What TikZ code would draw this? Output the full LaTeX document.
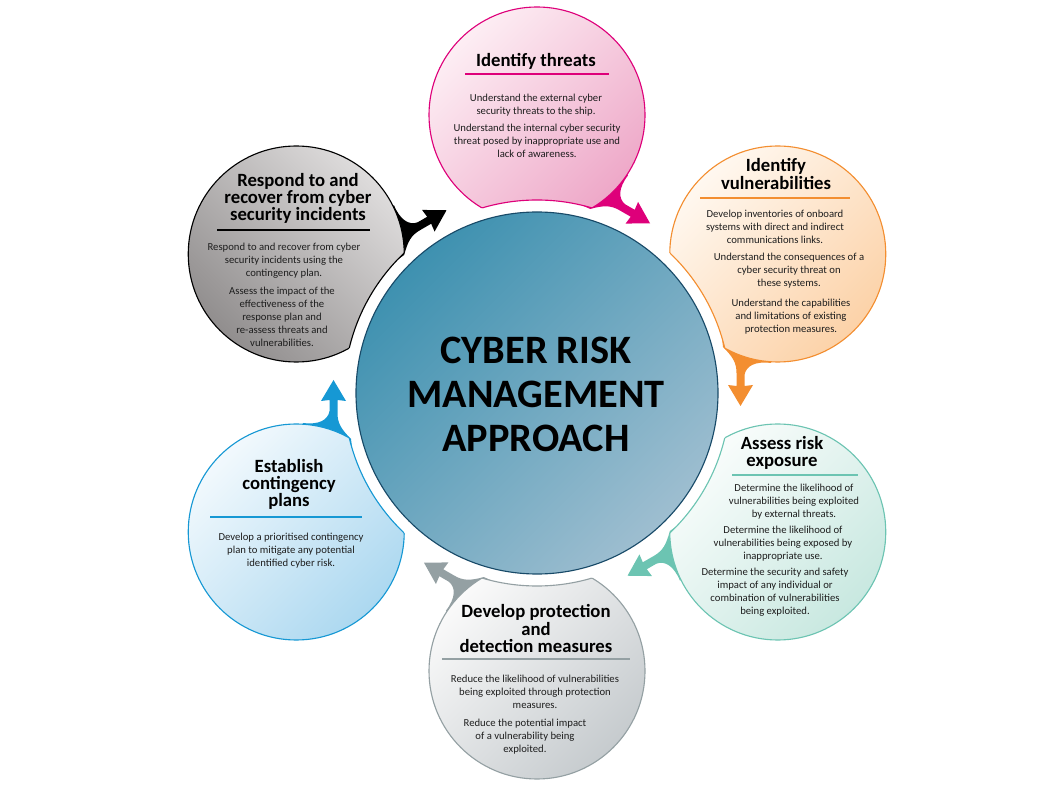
\documentclass[tikz,border=0pt]{standalone}
\usepackage{fontspec}
\setmainfont{Carlito}
\usetikzlibrary{calc}

\definecolor{threatpink}{RGB}{222,0,122}
\definecolor{pinklite}{RGB}{253,238,244}
\definecolor{pinkdark}{RGB}{238,168,200}
\definecolor{vulnorange}{RGB}{243,142,48}
\definecolor{orangelite}{RGB}{255,248,240}
\definecolor{orangedark}{RGB}{252,210,168}
\definecolor{riskteal}{RGB}{108,196,178}
\definecolor{teallite}{RGB}{250,253,252}
\definecolor{tealdark}{RGB}{200,232,224}
\definecolor{protgrey}{RGB}{148,160,163}
\definecolor{greylite}{RGB}{250,250,250}
\definecolor{greydark}{RGB}{198,203,206}
\definecolor{contblue}{RGB}{22,152,212}
\definecolor{bluelite}{RGB}{242,249,253}
\definecolor{bluedark}{RGB}{172,216,240}
\definecolor{respblack}{RGB}{0,0,0}
\definecolor{darklite}{RGB}{222,220,220}
\definecolor{darkdark}{RGB}{145,142,142}
\definecolor{ctrtop}{RGB}{62,145,176}
\definecolor{ctrbot}{RGB}{158,190,208}
\definecolor{ctrline}{RGB}{24,74,104}
\definecolor{bodygrey}{RGB}{30,30,30}

\tikzset{
  titletext/.style={font=\fontsize{13.3}{12.2}\selectfont\bfseries, align=center, inner sep=0pt},
  bodytext/.style={font=\fontsize{7.6}{9.2}\selectfont, align=center, inner sep=0pt, text=bodygrey},
  centretext/.style={font=\fontsize{28.7}{31.3}\selectfont\bfseries, align=center, inner sep=0pt},
  headrule/.style={line width=2pt},
}

\begin{document}
\begin{tikzpicture}[x=0.25mm, y=0.25mm]
  \useasboundingbox (0,0) rectangle (1056,784);
  \def\Rc{181}
  \def\Rg{193}
  \def\Rb{108}
  \def\Db{278}
  \coordinate (O) at (537,391);

  % tails and arrow heads
  \foreach \ang/\col in {60/threatpink, 0/vulnorange, -60/riskteal, -120/protgrey, 180/contblue, 120/respblack}{
    \fill[\col, shift={(O)}, rotate=\ang] (185,55) -- (186,46)
      .. controls (196,36) and (199.5,30) .. (199.5,20) -- (199.5,7) -- (191,8) -- (203.5,-13)
      -- (216,8) -- (207.5,7) -- (207.5,18) .. controls (209,27) and (218,32) .. (234,30)
      -- (236,45) -- cycle;
  }

  % bubbles, cut round the centre
  \foreach \ang/\col/\lite/\dark/\sh in {90/threatpink/pinklite/pinkdark/45,
      30/vulnorange/orangelite/orangedark/45, -30/riskteal/teallite/tealdark/45,
      -90/protgrey/greylite/greydark/45, -150/contblue/bluelite/bluedark/45,
      150/respblack/darklite/darkdark/-45}{
    \coordinate (b) at ($(O)+(\ang:\Db)$);
    \begin{scope}[even odd rule]
      \clip (0,0) rectangle (1056,784) (O) circle (\Rg);
      \shade[top color=\lite, bottom color=\dark, shading angle=\sh] (b) circle (\Rb);
      \draw[\col, line width=0.8pt] (b) circle (\Rb);
    \end{scope}
    \begin{scope}
      \clip (b) circle (\Rb);
      \draw[\col, line width=0.8pt] (O) circle (\Rg);
    \end{scope}
  }

  % centre
  \shade[top color=ctrtop, bottom color=ctrbot, shading angle=45] (O) circle (\Rc);
  \draw[ctrline, line width=0.8pt] (O) circle (\Rc);
  \node[centretext] (ctr) at (536,389.5) {CYBER RISK\\MANAGEMENT\\APPROACH};

  % identify threats
  \node[titletext] (threats) at (536,723) {Identify threats};
  \draw[headrule, threatpink] (465,710) -- (609,710);
  \node[bodytext] (threats1) at (536,678.5) {Understand the external cyber\\security threats to the ship.};
  \node[bodytext] (threats2) at (537,643.5) {Understand the internal cyber security\\threat posed by inappropriate use and\\lack of awareness.};

  % identify vulnerabilities
  \node[titletext] (vuln) at (776,610) {Identify\\vulnerabilities};
  \draw[headrule, vulnorange] (700,586) -- (850,586);
  \node[bodytext] (vuln1) at (775,557) {Develop inventories of onboard\\systems with direct and indirect\\communications links.};
  \node[bodytext] (vuln2) at (789,513) {Understand the consequences of a\\cyber security threat on\\these systems.};
  \node[bodytext] (vuln3) at (791,467.5) {Understand the capabilities\\and limitations of existing\\protection measures.};

  % assess risk exposure
  \node[titletext] (risk) at (782,331) {Assess risk\\exposure};
  \draw[headrule, riskteal] (732,309) -- (858,309);
  \node[bodytext] (risk1) at (794,282.5) {Determine the likelihood of\\vulnerabilities being exploited\\by external threats.};
  \node[bodytext] (risk2) at (783,240.5) {Determine the likelihood of\\vulnerabilities being exposed by\\inappropriate use.};
  \node[bodytext] (risk3) at (775,191.5) {Determine the security and safety\\impact of any individual or\\combination of vulnerabilities\\being exploited.};

  % protection and detection
  \node[titletext] (prot) at (536,155.5) {Develop protection\\and\\detection measures};
  \draw[headrule, protgrey] (442,125) -- (630,125);
  \node[bodytext] (prot1) at (535,92.5) {Reduce the likelihood of vulnerabilities\\being exploited through protection\\measures.};
  \node[bodytext] (prot2) at (525,47.5) {Reduce the potential impact\\of a vulnerability being\\exploited.};

  % contingency plans
  \node[titletext] (cont) at (289,299.5) {Establish\\contingency\\plans};
  \draw[headrule, contblue] (210,267) -- (362,267);
  \node[bodytext] (cont1) at (291,233.5) {Develop a prioritised contingency\\plan to mitigate any potential\\identified cyber risk.};

  % respond and recover
  \node[titletext] (resp) at (298,585.3) {Respond to and\\recover from cyber\\security incidents};
  \draw[headrule, respblack] (217,554) -- (370,554);
  \node[bodytext] (resp1) at (284,523) {Respond to and recover from cyber\\security incidents using the\\contingency plan.};
  \node[bodytext] (resp2) at (282,467) {Assess the impact of the\\effectiveness of the\\response plan and\\re-assess threats and\\vulnerabilities.};
\end{tikzpicture}
\end{document}
